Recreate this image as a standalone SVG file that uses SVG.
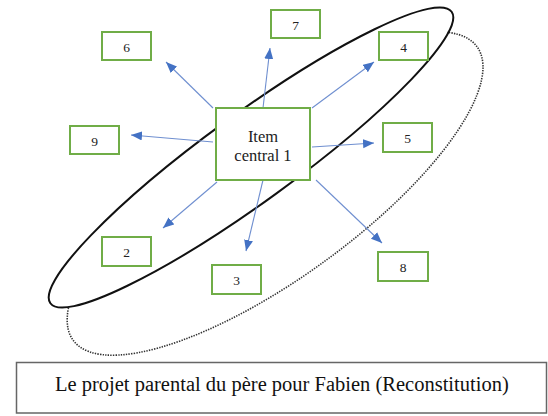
<svg xmlns="http://www.w3.org/2000/svg" width="548" height="416" viewBox="0 0 548 416">
<style>
.node rect{fill:#fff;stroke:#70AD47;stroke-width:2}
.node text{font-family:"Liberation Serif","Times New Roman",serif;font-size:13.5px;fill:#222;text-anchor:middle}
.conn line{stroke:#6F8FD0;stroke-width:1.1}
.cap text{font-family:"Liberation Serif","Times New Roman",serif;font-size:20.5px;fill:#111}
</style>
<defs>
<marker id="ah" markerUnits="userSpaceOnUse" markerWidth="12" markerHeight="10" refX="11" refY="4.5" orient="auto">
<path d="M0,0 L11,4.5 L0,9 Z" fill="#4472C4"/>
</marker>
</defs>
<rect width="548" height="416" fill="#fff"/>
<g id="shapes">
<path d="M68.5,307.7 A249.5,84 -36 0 0 324.4,261.5 A249.5,84 -36 0 0 447.3,32.3" fill="none" stroke="#333" stroke-width="1.6" stroke-dasharray="1.4 1.2"/>
<ellipse cx="251" cy="157.5" rx="248" ry="44" transform="rotate(-36 251 157.5)" fill="none" stroke="#111" stroke-width="2"/>
</g>
<g id="connectors" class="conn">
<line x1="213" y1="108" x2="166" y2="62" marker-end="url(#ah)"/>
<line x1="213" y1="142" x2="131" y2="135" marker-end="url(#ah)"/>
<line x1="263" y1="108" x2="270" y2="48" marker-end="url(#ah)"/>
<line x1="312" y1="108" x2="374" y2="62" marker-end="url(#ah)"/>
<line x1="312" y1="147" x2="374" y2="143" marker-end="url(#ah)"/>
<line x1="316" y1="180" x2="382" y2="243" marker-end="url(#ah)"/>
<line x1="217" y1="182" x2="163" y2="228" marker-end="url(#ah)"/>
<line x1="263" y1="180" x2="246" y2="251" marker-end="url(#ah)"/>
</g>
<g id="node-central" class="node">
<rect x="216" y="108" width="94" height="72"/>
<text x="263" y="141.5" style="font-size:16.5px">Item</text>
<text x="263" y="160.5" style="font-size:16.5px">central 1</text>
</g>
<g id="node-6" class="node"><rect x="102" y="32" width="49" height="28"/><text x="126.5" y="51.5">6</text></g>
<g id="node-7" class="node"><rect x="271" y="10" width="49" height="28"/><text x="295.5" y="29.5">7</text></g>
<g id="node-4" class="node"><rect x="379" y="32" width="49" height="28"/><text x="403.5" y="51.5">4</text></g>
<g id="node-9" class="node"><rect x="70" y="126" width="49" height="28"/><text x="94.5" y="145.5">9</text></g>
<g id="node-5" class="node"><rect x="383" y="123" width="49" height="29"/><text x="407.5" y="143">5</text></g>
<g id="node-2" class="node"><rect x="102" y="237" width="49" height="29"/><text x="126.5" y="257">2</text></g>
<g id="node-3" class="node"><rect x="212" y="265" width="49" height="29"/><text x="236.5" y="285">3</text></g>
<g id="node-8" class="node"><rect x="378" y="252" width="50" height="29"/><text x="403" y="272">8</text></g>
<g id="caption" class="cap">
<rect x="16.5" y="362.5" width="530" height="50.5" fill="#fff" stroke="#666" stroke-width="1.5"/>
<text x="55" y="391">Le projet parental du père pour Fabien (Reconstitution)</text>
</g>
</svg>
